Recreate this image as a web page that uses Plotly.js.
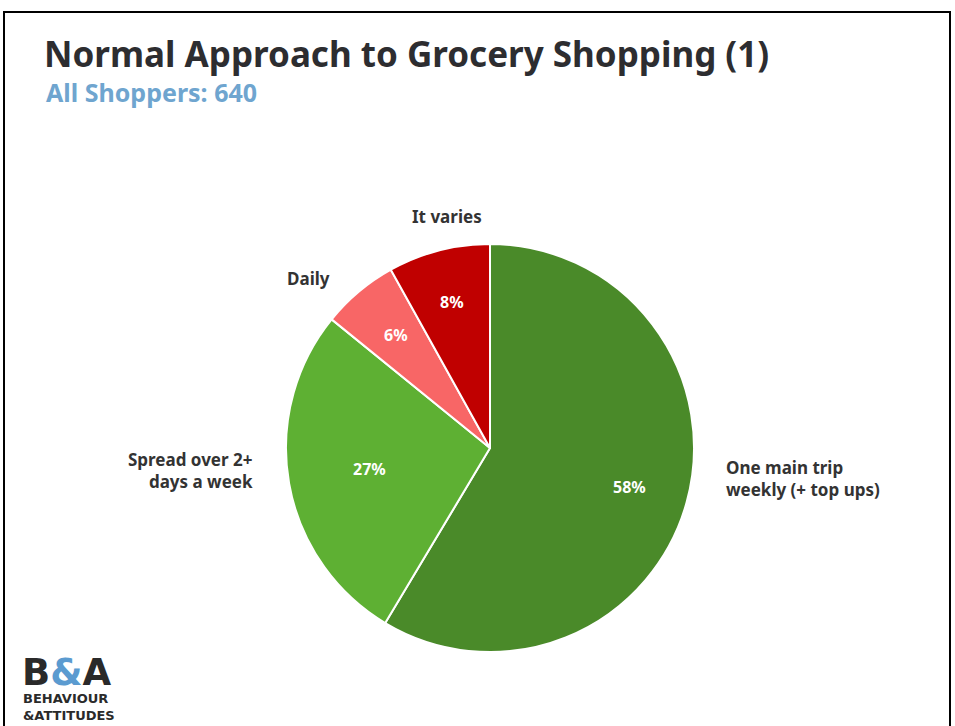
<!DOCTYPE html>
<html><head><meta charset="utf-8">
<script src="https://cdn.plot.ly/plotly-3.0.1.min.js"></script>
<style>html,body{margin:0;padding:0;background:#fff}#chart{width:955px;height:726px}</style>
</head><body><div id="chart"></div>
<script>
const categories = ["One main trip weekly (+ top ups)", "Spread over 2+ days a week", "Daily", "It varies"];
const values = [58, 27, 6, 8];
const colors = ["#4a8a29", "#5eb033", "#f86666", "#c00000"];
const labelText = ["One main trip<br>weekly (+ top ups)", "Spread over 2+<br>days a week", "Daily", "It varies"];

const W = 955, H = 726;
const FONT = "Noto Sans, DejaVu Sans, sans-serif";
const px = x => x / W, py = y => 1 - y / H;

// pie geometry (pixels)
const CX = 490, CY = 448, R = 204;

const trace = {
  type: "pie",
  labels: categories,
  values: values,
  textinfo: "none",
  sort: false,
  direction: "clockwise",
  rotation: 0,
  marker: {colors: colors, line: {color: "#ffffff", width: 2}},
  domain: {x: [px(CX - R), px(CX + R)], y: [py(CY + R), py(CY - R)]},
  showlegend: false,
  hoverinfo: "label+value"
};

// percentage labels derived from the data (slice mid-angles)
const total = values.reduce((a, b) => a + b, 0);
const radFactor = [0.71, 0.6, 0.72, 0.74];
let cum = 0;
const annotations = [];
values.forEach((v, i) => {
  const mid = (cum + v / 2) / total * 2 * Math.PI; // clockwise from 12 o'clock
  cum += v;
  const r = R * radFactor[i];
  const x = CX + r * Math.sin(mid), y = CY - r * Math.cos(mid);
  annotations.push({
    text: v + "%", xref: "paper", yref: "paper",
    x: px(x), y: py(y), xanchor: "center", yanchor: "middle", showarrow: false,
    font: {family: FONT, size: 16, color: "#ffffff", weight: "bold"}
  });
});

const labelPos = [
  {x: 724, y: 478, xanchor: "left", align: "left"},
  {x: 255, y: 470, xanchor: "right", align: "right"},
  {x: 308, y: 278, xanchor: "center", align: "center"},
  {x: 447, y: 216, xanchor: "center", align: "center"}
];
labelText.forEach((t, i) => annotations.push({
  text: t, xref: "paper", yref: "paper",
  x: px(labelPos[i].x), y: py(labelPos[i].y),
  xanchor: labelPos[i].xanchor, yanchor: "middle", align: labelPos[i].align,
  showarrow: false,
  font: {family: FONT, size: 17, color: "#333333", weight: "bold"}
}));

annotations.push({
  text: "All Shoppers: 640", xref: "paper", yref: "paper",
  x: px(44), y: py(92), xanchor: "left", yanchor: "middle", showarrow: false,
  font: {family: FONT, size: 25, color: "#6fa5cf", weight: "bold"}
});
annotations.push({
  text: "B<span style=\"color:#5b9bd0\">&amp;</span>A", xref: "paper", yref: "paper",
  x: px(20), y: py(672), xanchor: "left", yanchor: "middle", showarrow: false,
  font: {family: "DejaVu Sans, sans-serif", size: 37, color: "#2a2a2a", weight: "bold"}
});
annotations.push({
  text: "BEHAVIOUR<br>&amp;ATTITUDES", xref: "paper", yref: "paper",
  x: px(21), y: py(707), xanchor: "left", yanchor: "middle", align: "left", showarrow: false,
  font: {family: "DejaVu Sans, sans-serif", size: 13, color: "#2a2a2a", weight: "bold"}
});

const layout = {
  width: W, height: H,
  margin: {l: 0, r: 0, t: 0, b: 0},
  paper_bgcolor: "#ffffff",
  title: {
    text: "Normal Approach to Grocery Shopping (1)",
    x: px(44), xanchor: "left", xref: "paper",
    y: py(55), yanchor: "middle", yref: "paper",
    font: {family: FONT, size: 35, color: "#2d2d30", weight: "bold"}
  },
  annotations: annotations,
  shapes: [{
    type: "path", xref: "paper", yref: "paper",
    path: `M ${px(4)} 0 L ${px(4)} ${py(12)} L ${px(950)} ${py(12)} L ${px(950)} 0`,
    line: {color: "#000000", width: 2}
  }]
};

Plotly.newPlot("chart", [trace], layout, {displayModeBar: false, staticPlot: true});
</script></body></html>
